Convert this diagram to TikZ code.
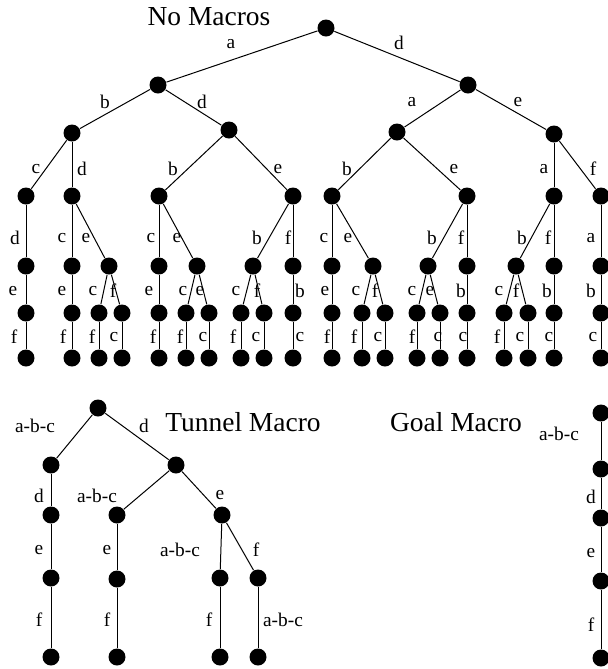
\documentclass[tikz,border=0pt]{standalone}
\usepackage{fontspec}
\setmainfont{Liberation Serif}
\begin{document}
\begin{tikzpicture}[x=0.75pt,y=-0.75pt,line width=0.75pt,
  dot/.style={circle,fill=black,inner sep=0pt,minimum size=12.75pt},
  lbl/.style={font=\fontsize{14.5}{16}\selectfont,inner sep=0pt},
  ttl/.style={font=\fontsize{20.6}{24}\selectfont,inner sep=0pt}]
\useasboundingbox (0,0) rectangle (608,669);
% a state: \dt{name}{x}{y}
\newcommand\dt[3]{\node[dot] (#1) at (#2,#3) {};}
% an action edge with its label: \ed{from}{to}{label x}{label y}{action}
\newcommand\ed[5]{\draw (#1) -- (#2) node[lbl] (l#2) at (#3,#4) {#5};}

% ---------------- search tree without macros ----------------
\node[ttl] (title1) at (209,17) {No Macros};
\dt{t0}{326}{28}
\dt{t1}{158}{85}  \dt{t2}{468}{85}
\dt{t3}{72}{133}  \dt{t4}{229}{130} \dt{t5}{397}{132} \dt{t6}{554}{134}
\dt{t7}{26}{196}  \dt{t8}{72}{196}  \dt{t9}{159}{196} \dt{t10}{293}{196}
\dt{t11}{332}{196} \dt{t12}{467}{196} \dt{t13}{554}{196} \dt{t14}{601}{196}
% depth 4
\dt{u1}{26}{266}  \dt{u2}{72}{266}  \dt{u3}{109}{266}
\dt{u4}{159}{266} \dt{u5}{197}{266} \dt{u6}{253}{266} \dt{u7}{293}{266}
\dt{u8}{332}{266} \dt{u9}{373}{266} \dt{u10}{428}{266} \dt{u11}{467}{266}
\dt{u12}{516}{266} \dt{u13}{554}{266} \dt{u14}{601}{266}
% depth 5
\dt{v1}{26}{313}  \dt{v2}{72}{313}  \dt{v3}{99}{313}  \dt{v4}{122}{313}
\dt{v5}{159}{313} \dt{v6}{186}{313} \dt{v7}{209}{313} \dt{v8}{241}{313}
\dt{v9}{264}{313} \dt{v10}{293}{313} \dt{v11}{332}{313} \dt{v12}{362}{313}
\dt{v13}{385}{313} \dt{v14}{417}{313} \dt{v15}{440}{313} \dt{v16}{467}{313}
\dt{v17}{504}{313} \dt{v18}{528}{313} \dt{v19}{554}{313} \dt{v20}{601}{313}
% depth 6 (leaves)
\dt{w1}{26}{358}  \dt{w2}{72}{358}  \dt{w3}{99}{358}  \dt{w4}{122}{358}
\dt{w5}{159}{358} \dt{w6}{186}{358} \dt{w7}{209}{358} \dt{w8}{241}{358}
\dt{w9}{264}{358} \dt{w10}{293}{358} \dt{w11}{332}{358} \dt{w12}{362}{358}
\dt{w13}{385}{358} \dt{w14}{417}{358} \dt{w15}{440}{358} \dt{w16}{467}{358}
\dt{w17}{504}{358} \dt{w18}{528}{358} \dt{w19}{554}{358} \dt{w20}{601}{358}

\ed{t0}{t1}{231}{44}{a}   \ed{t0}{t2}{399}{43}{d}
\ed{t1}{t3}{105}{102}{b}  \ed{t1}{t4}{202}{102}{d}
\ed{t2}{t5}{412}{102}{a}  \ed{t2}{t6}{518}{102}{e}
\ed{t3}{t7}{36}{169}{c}   \ed{t3}{t8}{82}{169}{d}
\ed{t4}{t9}{173}{169}{b}  \ed{t4}{t10}{278}{169}{e}
\ed{t5}{t11}{347}{169}{b} \ed{t5}{t12}{454}{169}{e}
\ed{t6}{t13}{544}{169}{a} \ed{t6}{t14}{593}{169}{f}

\ed{t7}{u1}{15}{238}{d}
\ed{t8}{u2}{62}{238}{c}   \ed{t8}{u3}{86}{238}{e}
\ed{t9}{u4}{151}{238}{c}  \ed{t9}{u5}{177}{238}{e}
\ed{t10}{u6}{257}{238}{b} \ed{t10}{u7}{288}{238}{f}
\ed{t11}{u8}{324}{238}{c} \ed{t11}{u9}{348}{238}{e}
\ed{t12}{u10}{432}{238}{b} \ed{t12}{u11}{461}{238}{f}
\ed{t13}{u12}{522}{238}{b} \ed{t13}{u13}{548}{238}{f}
\ed{t14}{u14}{591}{238}{a}

\ed{u1}{v1}{13}{291}{e}
\ed{u2}{v2}{62}{291}{e}
\ed{u3}{v3}{93}{291}{c}   \ed{u3}{v4}{113}{291}{f}
\ed{u4}{v5}{149}{291}{e}
\ed{u5}{v6}{183}{291}{c}  \ed{u5}{v7}{200}{291}{e}
\ed{u6}{v8}{236}{291}{c}  \ed{u6}{v9}{257}{291}{f}
\ed{u7}{v10}{300}{291}{b}
\ed{u8}{v11}{325}{291}{e}
\ed{u9}{v12}{356}{291}{c} \ed{u9}{v13}{375}{291}{f}
\ed{u10}{v14}{412}{291}{c} \ed{u10}{v15}{430}{291}{e}
\ed{u11}{v16}{461}{291}{b}
\ed{u12}{v17}{499}{291}{c} \ed{u12}{v18}{516}{291}{f}
\ed{u13}{v19}{547}{291}{b}
\ed{u14}{v20}{591}{291}{b}

\ed{v1}{w1}{14}{337}{f}    \ed{v2}{w2}{63}{337}{f}
\ed{v3}{w3}{92}{337}{f}    \ed{v4}{w4}{114}{337}{c}
\ed{v5}{w5}{153}{337}{f}   \ed{v6}{w6}{180}{337}{f}
\ed{v7}{w7}{203}{337}{c}   \ed{v8}{w8}{233}{337}{f}
\ed{v9}{w9}{256}{337}{c}   \ed{v10}{w10}{300}{337}{c}
\ed{v11}{w11}{327}{337}{f} \ed{v12}{w12}{354}{337}{f}
\ed{v13}{w13}{378}{337}{c} \ed{v14}{w14}{412}{337}{f}
\ed{v15}{w15}{438}{337}{c} \ed{v16}{w16}{463}{337}{c}
\ed{v17}{w17}{497}{337}{f} \ed{v18}{w18}{520}{337}{c}
\ed{v19}{w19}{549}{337}{c} \ed{v20}{w20}{593}{337}{c}

% ---------------- tree with the tunnel macro ----------------
\node[ttl] (title2) at (243,422) {Tunnel Macro};
\dt{b0}{98}{408}
\dt{b1}{51}{465}  \dt{b2}{176}{465}
\dt{b3}{51}{515}  \dt{b6}{117}{515} \dt{b7}{222}{515}
\dt{b4}{51}{578}  \dt{b8}{117}{579} \dt{b10}{220}{578} \dt{b11}{258}{578}
\dt{b5}{51}{657}  \dt{b9}{117}{657} \dt{b12}{220}{657} \dt{b13}{258}{657}
\ed{b0}{b1}{35}{426}{a-b-c} \ed{b0}{b2}{144}{426}{d}
\ed{b1}{b3}{39}{496}{d}
\ed{b3}{b4}{39}{550}{e}
\ed{b4}{b5}{39}{620}{f}
\ed{b2}{b6}{97}{496}{a-b-c} \ed{b2}{b7}{220}{495}{e}
\ed{b6}{b8}{107}{550}{e}
\ed{b8}{b9}{107}{620}{f}
\ed{b7}{b10}{180}{550}{a-b-c} \ed{b7}{b11}{256}{550}{f}
\ed{b10}{b12}{209}{620}{f}
\ed{b11}{b13}{283}{620}{a-b-c}

% ---------------- path with the goal macro ----------------
\node[ttl] (title3) at (456,422) {Goal Macro};
\dt{g0}{601}{413} \dt{g1}{601}{469} \dt{g2}{601}{518}
\dt{g3}{601}{581} \dt{g4}{601}{658}
\ed{g0}{g1}{559}{434}{a-b-c}
\ed{g1}{g2}{591}{497}{d}
\ed{g2}{g3}{591}{553}{e}
\ed{g3}{g4}{591}{625}{f}
\end{tikzpicture}
\end{document}
